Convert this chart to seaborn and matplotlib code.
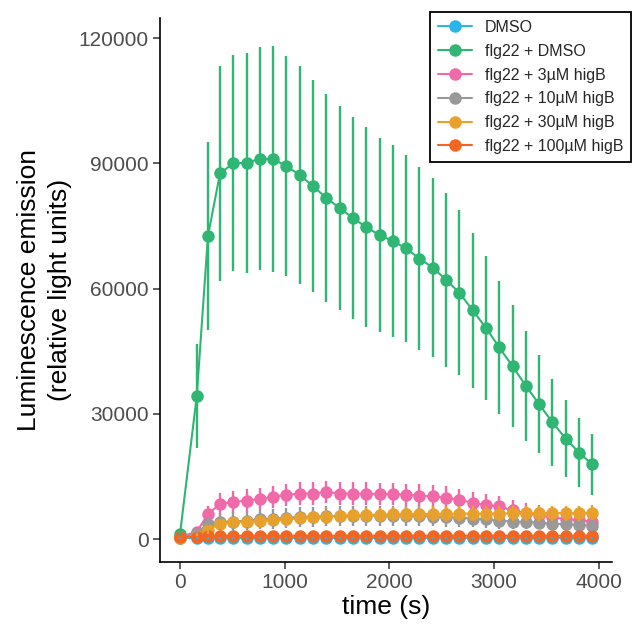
import matplotlib
matplotlib.use("Agg")
import matplotlib.pyplot as plt
import pandas as pd
import seaborn as sns

# sampling times (s)
times = [0, 160, 267, 382, 509, 636, 763, 890, 1017, 1144, 1271, 1398, 1525, 1652, 1779, 1906,
         2033, 2160, 2287, 2414, 2541, 2668, 2795, 2922, 3049, 3176, 3303, 3430, 3557, 3684, 3811, 3938]

treatments = ["DMSO", "flg22 + DMSO", "flg22 + 3µM higB", "flg22 + 10µM higB",
              "flg22 + 30µM higB", "flg22 + 100µM higB"]
colors = ["#29b5e8", "#2fb672", "#f06aa9", "#999999", "#e9a12a", "#f26624"]

# mean luminescence per treatment
dmso = [300, 250, 250, 250, 250, 250, 250, 250, 250, 250, 250, 250, 250, 250, 250, 250,
        250, 250, 250, 250, 250, 250, 250, 250, 250, 250, 250, 250, 250, 250, 250, 250]
flg22_dmso = [1200, 34300, 72600, 87600, 90000, 90100, 91100, 91000, 89300, 87200, 84500, 81700,
              79300, 76900, 74700, 72800, 71400, 69600, 67200, 65000, 62100, 59000, 54800, 50600,
              45900, 41400, 36700, 32300, 27950, 24050, 20700, 17900]
higb_3 = [500, 1750, 6000, 8400, 8900, 9200, 9600, 10100, 10600, 10900, 10900, 11300, 10900, 10900,
          10900, 10800, 10800, 10600, 10400, 10200, 9900, 9400, 8700, 8100, 7800, 6900, 6200, 5700,
          5200, 4800, 4500, 4200]
higb_10 = [300, 1500, 3600, 4100, 4200, 4400, 4700, 4900, 5100, 5300, 5300, 5500, 5500, 5500, 5600,
           5600, 5600, 5600, 5500, 5400, 5300, 5100, 4900, 4700, 4400, 4200, 4100, 3900, 3700, 3500,
           3400, 3200]
higb_30 = [300, 800, 2200, 3700, 4000, 4200, 4300, 4500, 4700, 5000, 5300, 5400, 5600, 5700, 5800,
           5800, 5900, 5900, 6000, 6000, 6000, 6100, 6100, 6100, 6100, 6200, 6200, 6200, 6200, 6200,
           6200, 6300]
higb_100 = [500, 600, 700, 800, 800, 800, 800, 800, 800, 800, 800, 800, 800, 800, 800, 800,
            800, 800, 800, 800, 800, 800, 800, 800, 800, 800, 800, 800, 800, 800, 800, 800]

# error bar half-widths
dmso_err = [150] * 32
flg22_dmso_err = [600, 12500, 22500, 25700, 25900, 26300, 26700, 27000, 26400, 26100, 25400, 25000,
                  24400, 24200, 23900, 23200, 22900, 22500, 22000, 21400, 20800, 19800, 18600, 17300,
                  16000, 14600, 13100, 11800, 10400, 9300, 8300, 7300]
higb_3_err = [200, 800, 1800, 2600, 2700, 2700, 2700, 2700, 2700, 2700, 2700, 2700, 2700, 2700, 2700,
              2700, 2700, 2700, 2700, 2700, 2700, 2700, 2600, 2600, 2500, 2500, 2400, 2400, 2300, 2300,
              2200, 2200]
higb_10_err = [200, 600, 1500, 2000, 2200, 2300, 2400, 2400, 2400, 2400, 2400, 2400, 2400, 2400, 2400,
               2400, 2400, 2400, 2400, 2300, 2300, 2200, 2100, 2000, 1900, 1800, 1700, 1600, 1500, 1400,
               1300, 1300]
higb_30_err = [150, 400, 900, 1200, 1300, 1300, 1400, 1400, 1500, 1500, 1500, 1600, 1600, 1600, 1700,
               1700, 1700, 1700, 1700, 1800, 1800, 1800, 1800, 1800, 1800, 1800, 1800, 1800, 1800, 1800,
               1800, 1800]
higb_100_err = [150] * 32

means = [dmso, flg22_dmso, higb_3, higb_10, higb_30, higb_100]
errors = [dmso_err, flg22_dmso_err, higb_3_err, higb_10_err, higb_30_err, higb_100_err]

frames = []
for name, m, e in zip(treatments, means, errors):
    frames.append(pd.DataFrame({"time": times, "value": m, "err": e, "treatment": name}))
df = pd.concat(frames, ignore_index=True)

sns.set_style("ticks")
plt.rcParams["font.family"] = ["Liberation Sans", "DejaVu Sans"]

fig = plt.figure(figsize=(6.34, 6.26), dpi=100)
ax = fig.add_axes([0.2524, 0.1022, 0.7129, 0.869])

palette = dict(zip(treatments, colors))
sns.lineplot(data=df, x="time", y="value", hue="treatment", hue_order=treatments,
             palette=palette, marker="o", markersize=9, markeredgewidth=0,
             linewidth=1.5, errorbar=None, ax=ax)

# error bars on top, like the ggplot layer order
for name in treatments:
    sub = df[df["treatment"] == name]
    ax.errorbar(sub["time"], sub["value"], yerr=sub["err"], fmt="none",
                ecolor=palette[name], elinewidth=1.7, capsize=0, zorder=4)

ax.set_xlim(-191, 4126)
ax.set_ylim(-5500, 124800)
ax.set_xticks([0, 1000, 2000, 3000, 4000])
ax.set_yticks([0, 30000, 60000, 90000, 120000])
ax.set_xlabel("time (s)", fontsize=19, color="black", labelpad=2)
ax.set_ylabel("Luminescence emission\n(relative light units)", fontsize=19,
              color="black", labelpad=5, linespacing=1.35)
ax.tick_params(axis="both", labelsize=15, labelcolor="#4d4d4d", color="#333333",
               length=5, width=1.1, pad=3)
for side in ["left", "bottom"]:
    ax.spines[side].set_linewidth(1.2)
    ax.spines[side].set_color("black")
sns.despine(ax=ax)

handles, labels = ax.get_legend_handles_labels()
leg = ax.legend(handles, labels, loc="upper right", bbox_to_anchor=(631 / 634, 1 - 12 / 626),
                bbox_transform=fig.transFigure, borderaxespad=0, fontsize=11.5,
                frameon=True, fancybox=False, edgecolor="black", framealpha=1,
                handlelength=2.1, handletextpad=0.8, labelspacing=0.55, borderpad=0.5)
leg.get_frame().set_linewidth(1.3)

fig.savefig("out.png", dpi=100)
